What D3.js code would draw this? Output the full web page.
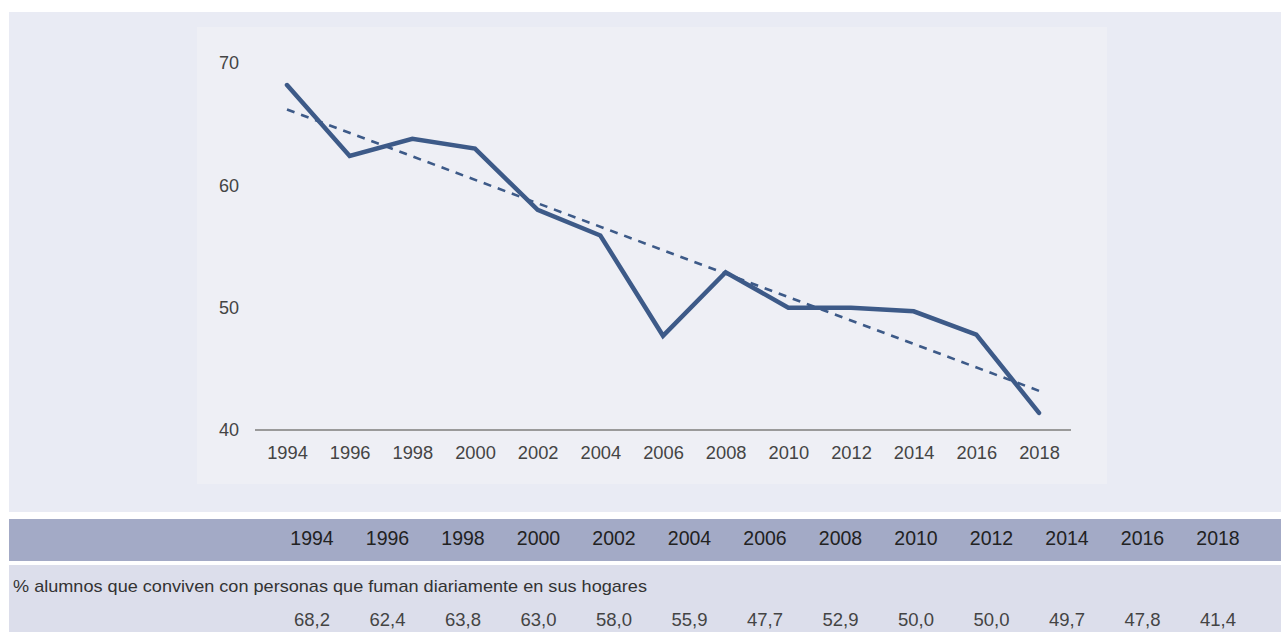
<!DOCTYPE html>
<html><head><meta charset="utf-8">
<script src="https://cdn.jsdelivr.net/npm/d3@7"></script>
<style>body{margin:0;background:#fff;}svg{display:block;}</style>
</head><body>
<script>
const years = ["1994","1996","1998","2000","2002","2004","2006","2008","2010","2012","2014","2016","2018"];
const values = [68.2,62.4,63.8,63.0,58.0,55.9,47.7,52.9,50.0,50.0,49.7,47.8,41.4];
const trendYears = ["1994","2018"];
const trendValues = [66.2,43.2];
const yTicks = [40,50,60,70];
const rowLabel = "% alumnos que conviven con personas que fuman diariamente en sus hogares";
const valueLabels = ["68,2","62,4","63,8","63,0","58,0","55,9","47,7","52,9","50,0","50,0","49,7","47,8","41,4"];

const W=1281,H=632;
const svg=d3.select("body").append("svg").attr("width",W).attr("height",H);
const font="'Liberation Sans', Arial, sans-serif";

svg.append("rect").attr("x",9).attr("y",12).attr("width",W-9).attr("height",500).attr("fill","#e9ebf4");
svg.append("rect").attr("x",197).attr("y",27).attr("width",910).attr("height",457).attr("fill","#eeeff5");

const x=d3.scalePoint().domain(years).range([287,1039]);
const y=d3.scaleLinear().domain([40,70]).range([430,63]);

const ya=svg.append("g").attr("transform","translate(239,0)")
  .call(d3.axisLeft(y).tickValues(yTicks).tickSize(0).tickPadding(0).tickFormat(d3.format("d")));
ya.select(".domain").remove();
ya.selectAll("text").attr("font-family",font).attr("font-size",18).attr("fill","#444");

svg.append("line").attr("x1",255).attr("x2",1071).attr("y1",y(40)).attr("y2",y(40))
  .attr("stroke","#9a9a9a").attr("stroke-width",2);

const xa=svg.append("g").attr("transform","translate(0,446)")
  .call(d3.axisBottom(x).tickSize(0).tickPadding(0));
xa.select(".domain").remove();
xa.selectAll("text").attr("font-family",font).attr("font-size",18.3).attr("fill","#444").attr("dy","0.71em");

svg.append("path").datum(trendYears.map((d,i)=>[d,trendValues[i]]))
  .attr("d",d3.line().x(d=>x(d[0])).y(d=>y(d[1])))
  .attr("fill","none").attr("stroke","#3d5a88").attr("stroke-width",2.6).attr("stroke-dasharray","8,7");

svg.append("path").datum(years.map((d,i)=>[d,values[i]]))
  .attr("d",d3.line().x(d=>x(d[0])).y(d=>y(d[1])))
  .attr("fill","none").attr("stroke","#3d5a88").attr("stroke-width",4.5)
  .attr("stroke-linejoin","miter").attr("stroke-linecap","round");

svg.append("rect").attr("x",9).attr("y",519).attr("width",W-9).attr("height",42).attr("fill","#a3aac6");
svg.append("rect").attr("x",9).attr("y",565).attr("width",W-9).attr("height",67).attr("fill","#dcdeeb");

const tx=d3.scalePoint().domain(years).range([312,1218]);
svg.append("g").selectAll("text").data(years).join("text")
  .attr("x",d=>tx(d)).attr("y",545).attr("text-anchor","middle")
  .attr("font-family",font).attr("font-size",19.5).attr("fill","#222").text(d=>d);

svg.append("text").attr("x",13).attr("y",592).attr("font-family",font).attr("font-size",17)
  .attr("fill","#333").attr("textLength",634).attr("lengthAdjust","spacingAndGlyphs").text(rowLabel);

svg.append("g").selectAll("text").data(valueLabels).join("text")
  .attr("x",(d,i)=>tx(years[i])).attr("y",626).attr("text-anchor","middle")
  .attr("font-family",font).attr("font-size",18.5).attr("fill","#444").text(d=>d);
</script>
</body></html>
